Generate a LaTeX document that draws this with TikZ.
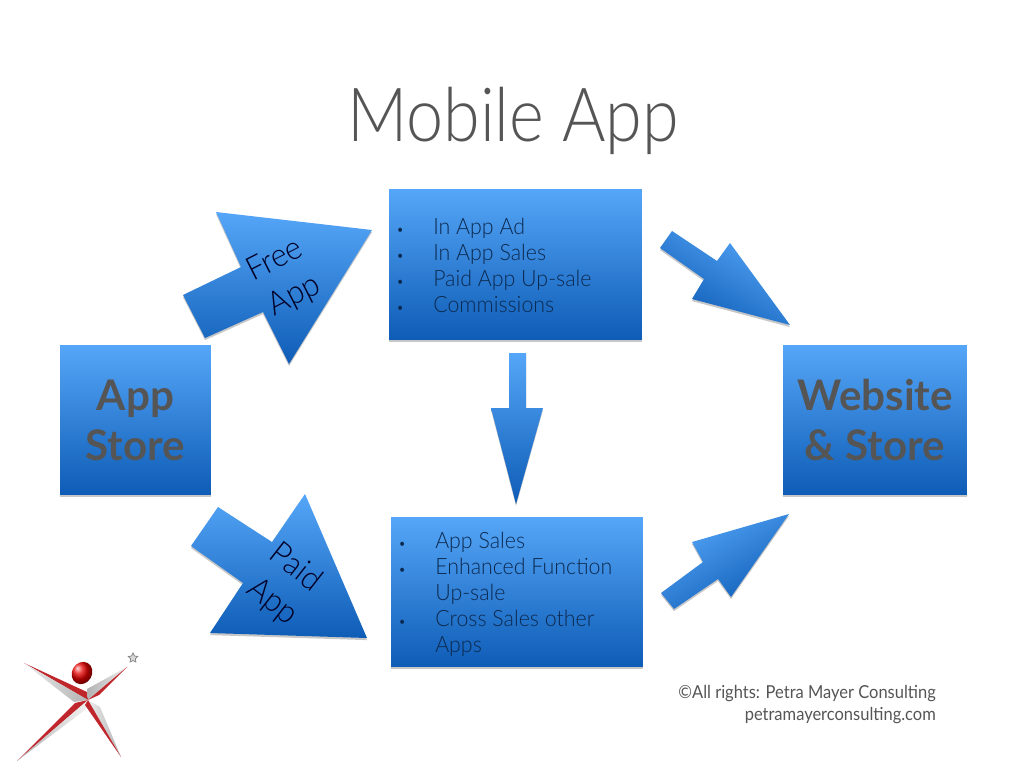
\documentclass[tikz,border=0pt]{standalone}
\usepackage{fontspec}
\setmainfont{Lato}
\newfontfamily\lightfont{Lato Light}[FakeStretch=0.95]
\newfontfamily\titlefont{Lato Light}[FakeStretch=0.89]
\newfontfamily\notefont{Lato}[FakeStretch=0.92]
\usetikzlibrary{shadows,shapes.geometric}

\definecolor{boxtop}{HTML}{55A6F8}
\definecolor{boxbot}{HTML}{0E5CB6}
\definecolor{slate}{HTML}{555555}
\definecolor{listink}{HTML}{0C2A50}
\definecolor{logored}{HTML}{C0272D}

\tikzset{
  softshadow/.style={drop shadow={shadow xshift=0pt, shadow yshift=-1.2pt, opacity=0.22, fill=black}},
  bluebox/.style={shade, top color=boxtop, bottom color=boxbot, softshadow, inner sep=0pt},
  blockarrow/.style={top color=boxtop, bottom color=boxbot, softshadow},
  listtext/.style={text=listink, anchor=west, align=left, inner sep=0pt, font=\lightfont\fontsize{12.8}{14.8}\selectfont},
  headbox/.style={bluebox, text=slate, align=center, font=\bfseries\fontsize{24}{28.5}\selectfont},
  arrowlabel/.style={text=black!85!blue, align=center, font=\lightfont\fontsize{18.5}{20}\selectfont},
}
\newcommand{\listrow}[2]{\makebox[21pt][l]{#1}#2}
\newcommand{\dotmark}{{\fontsize{8}{8}\selectfont\textbullet}}

\begin{document}
\begin{tikzpicture}[x=0.02cm, y=-0.02cm]
    \useasboundingbox (0, 0) rectangle (1024, 767);

    \node[text=slate, font=\titlefont\fontsize{42.5}{50}\selectfont] (title) at (513, 121) {Mobile App};

    % the four boxes
    \node[headbox, minimum width=3.02cm, minimum height=3cm] (appstore) at (135.5, 420) {App\\Store};
    \node[headbox, minimum width=3.68cm, minimum height=3cm] (website) at (875, 420) {Website\\\&~Store};
    \node[bluebox, minimum width=5.06cm, minimum height=3.02cm] (inapp) at (515.5, 264.5) {};
    \node[bluebox, minimum width=5.04cm, minimum height=3cm] (paidsales) at (517, 592) {};

    \node[listtext] (inapplist) at (396, 265) {%
      \listrow{\dotmark}{In App Ad}\\
      \listrow{\dotmark}{In App Sales}\\
      \listrow{\dotmark}{Paid App Up-sale}\\
      \listrow{\dotmark}{Commissions}};
    \node[listtext] (paidlist) at (398, 594) {%
      \listrow{\dotmark}{App Sales}\\
      \listrow{\dotmark}{Enhanced Function}\\
      \listrow{}{Up-sale}\\
      \listrow{\dotmark}{Cross Sales other}\\
      \listrow{}{Apps}};

    % block arrows
    \path[blockarrow]
      (372, 230) -- (216, 212) -- (241, 267) -- (183, 295) -- (205, 338) -- (263, 312) -- (289, 364) -- cycle;
    \path[blockarrow]
      (367, 638) -- (305, 494) -- (272, 542) -- (218, 507) -- (191, 546) -- (243, 583) -- (210, 633) -- cycle;
    \path[blockarrow]
      (516, 504) -- (543, 408) -- (526, 408) -- (526, 353) -- (509, 353) -- (509, 408) -- (491, 408) -- cycle;
    \path[blockarrow, shading angle=-30]
      (790, 325) -- (730, 243) -- (717, 261) -- (672, 231) -- (660, 248) -- (704, 279) -- (692, 299) -- cycle;
    \path[blockarrow, shading angle=30]
      (789, 514) -- (692, 542) -- (703, 562) -- (661, 593) -- (674, 609) -- (718, 579) -- (731, 597) -- cycle;

    \node[arrowlabel, rotate=27] (free) at (274, 258) {Free};
    \node[arrowlabel, rotate=27] (freeapp) at (295, 296) {App};
    \node[arrowlabel, rotate=-38] (paid) at (297, 566) {Paid};
    \node[arrowlabel, rotate=-38] (paidapp) at (272, 602) {App};

    % logo in the corner
    \coordinate (hub) at (88, 700);
    \fill[logored] (24, 663) -- (87, 692) -- (hub) -- cycle;
    \shade[left color=gray!15, right color=gray!60] (24, 663) -- (hub) -- (74, 702) -- cycle;
    \shade[left color=gray!60, right color=gray!15] (127, 667) -- (87, 689) -- (hub) -- cycle;
    \fill[logored] (127, 667) -- (hub) -- (99, 695) -- cycle;
    \fill[logored] (17, 761) -- (75, 703) -- (hub) -- cycle;
    \shade[left color=gray!60, right color=gray!10] (17, 761) -- (hub) -- (85, 710) -- cycle;
    \shade[left color=gray!15, right color=gray!60] (121, 757) -- (hub) -- (100, 707) -- cycle;
    \fill[logored] (121, 757) -- (85, 705) -- (hub) -- cycle;
    \shade[ball color=red!90!black, rotate around={-30:(82, 673)}] (82, 673) ellipse (10 and 11.5);
    \node[star, star points=5, star point ratio=2, draw=gray, fill=gray!30, inner sep=0pt, minimum size=0.2cm] (spark) at (133, 658) {};

    \node[text=slate, anchor=east, align=right, font=\notefont\fontsize{10.2}{12.5}\selectfont] (rights) at (942, 705) {%
      \textcopyright All rights: Petra Mayer Consulting\\petramayerconsulting.com};
\end{tikzpicture}
\end{document}
